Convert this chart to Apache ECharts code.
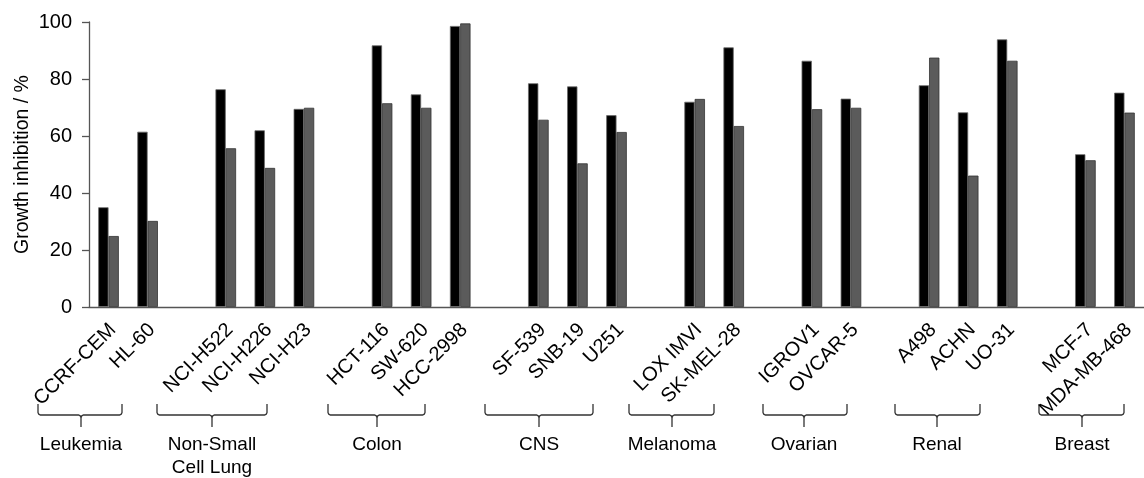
<!DOCTYPE html>
<html>
<head>
<meta charset="utf-8">
<script src="https://cdn.jsdelivr.net/npm/echarts@6/dist/echarts.min.js"></script>
<style>
  html, body { margin: 0; padding: 0; background: #fff; }
  #chart { width: 1144px; height: 478px; }
</style>
</head>
<body>
<div id="chart"></div>
<script>
// Cell lines along the x axis; empty entries separate the tissue panels.
const cellLines = [
  'CCRF-CEM', 'HL-60', '',
  'NCI-H522', 'NCI-H226', 'NCI-H23', '',
  'HCT-116', 'SW-620', 'HCC-2998', '',
  'SF-539', 'SNB-19', 'U251', '',
  'LOX IMVI', 'SK-MEL-28', '',
  'IGROV1', 'OVCAR-5', '',
  'A498', 'ACHN', 'UO-31', '',
  'MCF-7', 'MDA-MB-468'
];

// Growth inhibition (%) for the two treatments (black and grey bars).
const inhibitionA = [
  35.0, 61.5, null,
  76.4, 62.0, 69.5, null,
  91.8, 74.6, 98.6, null,
  78.5, 77.4, 67.3, null,
  72.0, 91.1, null,
  86.4, 73.1, null,
  77.8, 68.3, 93.9, null,
  53.6, 75.2
];
const inhibitionB = [
  24.9, 30.2, null,
  55.7, 48.8, 69.9, null,
  71.5, 69.9, 99.5, null,
  65.7, 50.4, 61.4, null,
  73.0, 63.5, null,
  69.4, 69.9, null,
  87.5, 46.1, 86.4, null,
  51.5, 68.2
];

// Value axis range.
const yMin = 0, yMax = 100, yStep = 20;

// Tissue panels written under the cell-line names.
const panelNames = ['Leukemia', 'Non-Small\nCell Lung', 'Colon', 'CNS', 'Melanoma', 'Ovarian', 'Renal', 'Breast'];

// Brace geometry under each panel: [left end, centre stem, right end] in px.
const braceLayout = [
  [38, 81, 122], [157, 212, 267], [328, 377, 425], [485, 539, 593],
  [629, 672, 714], [763, 804, 847], [895, 937, 980], [1039, 1082, 1124]
];

const FONT = '"Liberation Sans", Arial, Helvetica, sans-serif';
const INK = '#000';
const AXIS = '#555';

// A brace is drawn as two polylines with softened corners.
function braceLines(l, m, r) {
  const top = 404, mid = 415, low = 427;
  return [
    [[l, top], [l, mid - 2.5], [l + 0.8, mid - 0.8], [l + 2.5, mid], [m - 2.5, mid], [m - 0.8, mid + 0.8], [m, mid + 2.5], [m, low]],
    [[m, mid + 2.5], [m + 0.8, mid + 0.8], [m + 2.5, mid], [r - 2.5, mid], [r - 0.8, mid - 0.8], [r, mid - 2.5], [r, top]]
  ];
}

const graphics = [];
braceLayout.forEach(([l, m, r], i) => {
  braceLines(l, m, r).forEach(points => {
    graphics.push({
      type: 'polyline',
      shape: { points: points },
      style: { fill: null, stroke: '#333', lineWidth: 1.3 },
      silent: true
    });
  });
  graphics.push({
    type: 'text',
    style: {
      text: panelNames[i], x: m, y: 433,
      textAlign: 'center', textVerticalAlign: 'top',
      font: '19px ' + FONT, lineHeight: 23, fill: INK
    },
    silent: true
  });
});

const chart = echarts.init(document.getElementById('chart'), null, { renderer: 'canvas' });
chart.setOption({
  animation: false,
  backgroundColor: '#fff',
  grid: { left: 89, top: 22, width: 1064, height: 285, containLabel: false },
  xAxis: {
    type: 'category',
    data: cellLines,
    axisLine: { lineStyle: { color: AXIS, width: 1.3 } },
    axisTick: { interval: 0, length: 6, lineStyle: { color: AXIS, width: 1.3 } },
    axisLabel: {
      interval: 0, rotate: 45, margin: 24,
      padding: [0, -6, 0, 0],
      fontFamily: FONT, fontSize: 20, color: INK
    },
    splitLine: { show: false }
  },
  yAxis: {
    type: 'value',
    min: yMin, max: yMax, interval: yStep,
    name: 'Growth inhibition / %',
    nameLocation: 'middle', nameRotate: 90, nameGap: 56,
    nameMoveOverlap: false,
    nameTextStyle: { fontFamily: FONT, fontSize: 19.5, color: INK },
    axisLine: { show: true, lineStyle: { color: AXIS, width: 1.3 } },
    axisTick: { show: true, length: 7, lineStyle: { color: AXIS, width: 1.3 } },
    axisLabel: { margin: 17, fontFamily: FONT, fontSize: 20, color: INK },
    splitLine: { show: false }
  },
  series: [
    {
      name: 'A', type: 'bar', data: inhibitionA,
      barWidth: 10.3, barGap: '0%',
      itemStyle: { color: '#000', borderColor: '#6a6a6a', borderWidth: 0.8 }
    },
    {
      name: 'B', type: 'bar', data: inhibitionB,
      barWidth: 10.3, barGap: '0%',
      itemStyle: { color: '#5b5b5b', borderColor: '#333', borderWidth: 0.8 }
    }
  ],
  graphic: graphics
});
</script>
</body>
</html>
